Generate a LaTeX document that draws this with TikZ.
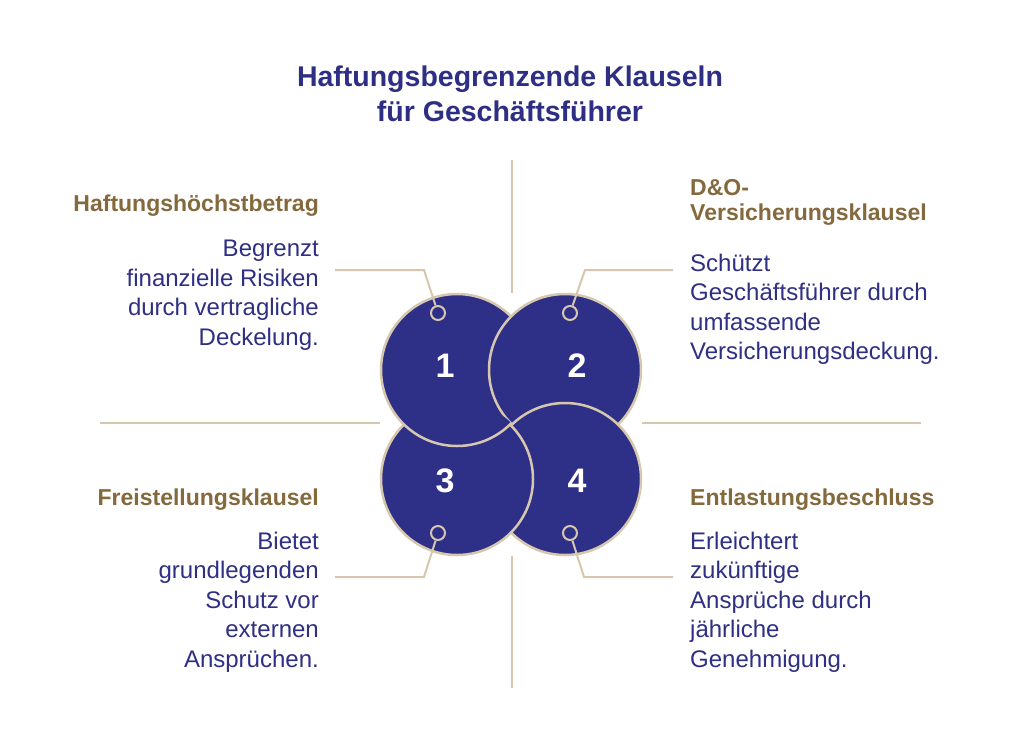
\documentclass[tikz,border=0pt]{standalone}
\usepackage{fontspec}
\setmainfont{Liberation Sans}
\definecolor{cblue}{HTML}{2E3088}
\definecolor{ctan}{HTML}{D6C7AE}
\definecolor{cgold}{HTML}{84693C}
\definecolor{ctext}{HTML}{2F2F84}
\definecolor{ctitle}{HTML}{2E2E84}
\begin{document}
\begin{tikzpicture}[x=1pt,y=-1pt,
  bigcirc/.style={circle, minimum size=152pt, inner sep=0pt, fill=cblue, draw=ctan, line width=2.5pt},
  dotnode/.style={circle, minimum size=14pt, inner sep=0pt, fill=cblue, draw=ctan, line width=2pt},
  link/.style={draw=ctan, line width=2pt},
  guide/.style={draw=ctan, line width=2pt},
  titletext/.style={font=\bfseries\fontsize{28.5}{35}\selectfont, text=ctitle, inner sep=0pt, align=center},
  headtext/.style={font=\bfseries\fontsize{23}{25}\selectfont, text=cgold, inner sep=0pt},
  bodytext/.style={font=\fontsize{24}{29.5}\selectfont, text=ctext, inner sep=0pt},
  numtext/.style={font=\bfseries\fontsize{34}{34}\selectfont, text=white, inner sep=0pt}]
\useasboundingbox (0,0) rectangle (1024,745);
\fill[white] (0,0) rectangle (1024,745);

% title
\node[titletext, anchor=north] (title) at (510,65.6) {Haftungsbegrenzende Klauseln\\für Geschäftsführer};

% guide lines
\coordinate (gt1) at (511.5,160); \coordinate (gt2) at (511.5,293);
\coordinate (gb1) at (511.5,556); \coordinate (gb2) at (511.5,688);
\coordinate (gl1) at (100,423); \coordinate (gl2) at (380,423);
\coordinate (gr1) at (642,423); \coordinate (gr2) at (921,423);
\draw[guide] (gt1) -- (gt2);
\draw[guide] (gb1) -- (gb2);
\draw[guide] (gl1) -- (gl2);
\draw[guide] (gr1) -- (gr2);

% woven circles
\node[bigcirc] (c1) at (457,370) {};
\node[bigcirc] (c2) at (565,370) {};
\node[bigcirc] (c4) at (565,479) {};
\node[bigcirc] (c3) at (457,479) {};
\begin{scope}
  \clip (c3.center) circle [radius=78pt];
  \fill[cblue, draw=ctan, line width=2.5pt] (c1.center) circle [radius=76pt];
\end{scope}

% numbers
\node[numtext, anchor=base] (n1) at (445,377) {1};
\node[numtext, anchor=base] (n2) at (577,377) {2};
\node[numtext, anchor=base] (n3) at (445,492) {3};
\node[numtext, anchor=base] (n4) at (577,492) {4};

% dots and connectors
\node[dotnode] (d1) at (438,313) {};
\node[dotnode] (d2) at (570,313) {};
\node[dotnode] (d3) at (438,533) {};
\node[dotnode] (d4) at (570,533) {};
\coordinate (k1) at (424,270); \coordinate (e1) at (335,270);
\coordinate (k2) at (585,270); \coordinate (e2) at (673,270);
\coordinate (k3) at (424,577); \coordinate (e3) at (335,577);
\coordinate (k4) at (584,577); \coordinate (e4) at (673,577);
\draw[link] (d1) -- (k1) -- (e1);
\draw[link] (d2) -- (k2) -- (e2);
\draw[link] (d3) -- (k3) -- (e3);
\draw[link] (d4) -- (k4) -- (e4);

% texts
\node[headtext, anchor=base east] (h1) at (319,211) {Haftungshöchstbetrag};
\node[bodytext, anchor=north east, align=right] (b1) at (319,239.8) {Begrenzt\\finanzielle Risiken\\durch vertragliche\\Deckelung.};
\node[headtext, anchor=north west, align=left] (h2) at (690,179.5) {D\&O-\\Versicherungsklausel};
\node[bodytext, anchor=north west, align=left] (b2) at (690,253.8) {Schützt\\Geschäftsführer durch\\umfassende\\Versicherungsdeckung.};
\node[headtext, anchor=base east] (h3) at (319,505) {Freistellungsklausel};
\node[bodytext, anchor=north east, align=right] (b3) at (319,531.8) {Bietet\\grundlegenden\\Schutz vor\\externen\\Ansprüchen.};
\node[headtext, anchor=base west] (h4) at (690,505) {Entlastungsbeschluss};
\node[bodytext, anchor=north west, align=left] (b4) at (690,531.8) {Erleichtert\\zukünftige\\Ansprüche durch\\jährliche\\Genehmigung.};
\end{tikzpicture}
\end{document}
